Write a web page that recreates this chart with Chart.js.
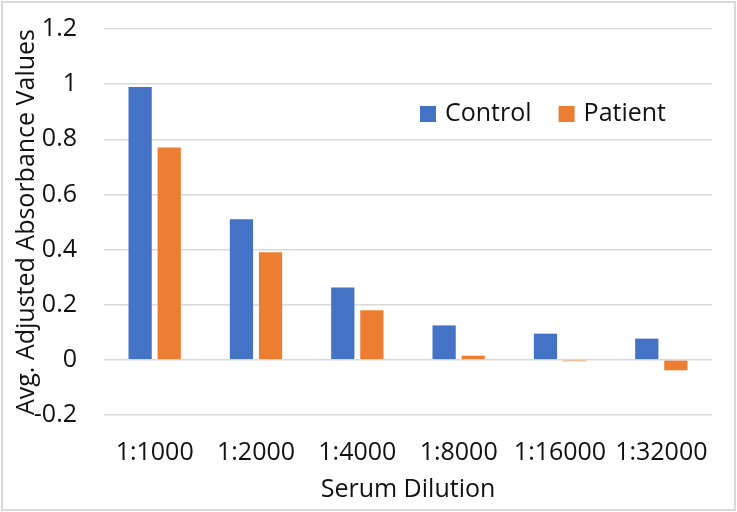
<!DOCTYPE html>
<html>
<head>
<meta charset="utf-8">
<script src="https://cdn.jsdelivr.net/npm/chart.js@4.4.0/dist/chart.umd.min.js"></script>
<style>
  body { margin: 0; background: #fff; }
  canvas { display: block; }
</style>
</head>
<body>
<canvas id="myChart" width="737" height="512"></canvas>
<script>
const dilutions = ["1:1000", "1:2000", "1:4000", "1:8000", "1:16000", "1:32000"];
const control = [0.99, 0.51, 0.262, 0.125, 0.095, 0.077];
const patient = [0.77, 0.39, 0.18, 0.015, -0.005, -0.038];
const yTicks = [-0.2, 0, 0.2, 0.4, 0.6, 0.8, 1, 1.2];

const FONT = "'Open Sans', sans-serif";
const TEXT = '#111';

// frame round the whole picture + legend inside the plot
const frameAndLegend = {
  id: 'frameAndLegend',
  beforeDraw(chart) {
    const c = chart.ctx;
    c.save();
    c.fillStyle = '#fff';
    c.fillRect(0, 0, chart.width, chart.height);
    c.strokeStyle = '#d9d9d9';
    c.lineWidth = 2;
    c.strokeRect(2, 2, chart.width - 4, chart.height - 4);
    c.restore();
  },
  afterDraw(chart) {
    const c = chart.ctx;
    c.save();
    c.font = '25px ' + FONT;
    c.textBaseline = 'middle';
    let x = 420;
    const y = 114;
    chart.data.datasets.forEach(ds => {
      c.fillStyle = ds.backgroundColor;
      c.fillRect(x, y - 8, 16, 16);
      c.fillStyle = TEXT;
      c.fillText(ds.label, x + 25, y);
      x += 25 + c.measureText(ds.label).width + 27;
    });
    c.restore();
  }
};

const ctx = document.getElementById('myChart');
new Chart(ctx, {
  type: 'bar',
  data: {
    labels: dilutions,
    datasets: [
      { label: 'Control', data: control, backgroundColor: '#4472C4' },
      { label: 'Patient', data: patient, backgroundColor: '#ED7D31' }
    ]
  },
  options: {
    responsive: false,
    animation: false,
    layout: { padding: { left: 0, right: 25, top: 29, bottom: 0 } },
    datasets: {
      bar: { barPercentage: 0.8, categoryPercentage: 0.574 }
    },
    plugins: {
      legend: { display: false },
      tooltip: { enabled: false }
    },
    scales: {
      x: {
        grid: { display: false, drawTicks: false },
        border: { display: false },
        ticks: { color: TEXT, font: { family: FONT, size: 25 }, padding: 23, maxRotation: 0, autoSkip: false },
        title: { display: true, text: 'Serum Dilution', color: TEXT, font: { family: FONT, size: 25 }, padding: { top: 0, bottom: 7 } },
        afterFit(s) { s.height = 97; s.paddingLeft = 0; s.paddingRight = 0; }
      },
      y: {
        min: -0.2,
        max: 1.2,
        afterBuildTicks(s) { s.ticks = yTicks.map(v => ({ value: v })); },
        grid: { color: '#d9d9d9', lineWidth: 1.5, drawTicks: false },
        border: { display: false },
        ticks: {
          color: TEXT, font: { family: FONT, size: 25 }, padding: 27,
          callback: v => String(Number(v.toFixed(1)))
        },
        title: { display: true, text: 'Avg. Adjusted Absorbance Values', color: TEXT, font: { family: FONT, size: 25 }, padding: { top: 12, bottom: 0 } },
        afterFit(s) { s.width = 104; s.paddingTop = 0; s.paddingBottom = 0; }
      }
    }
  },
  plugins: [frameAndLegend]
});
</script>
</body>
</html>
